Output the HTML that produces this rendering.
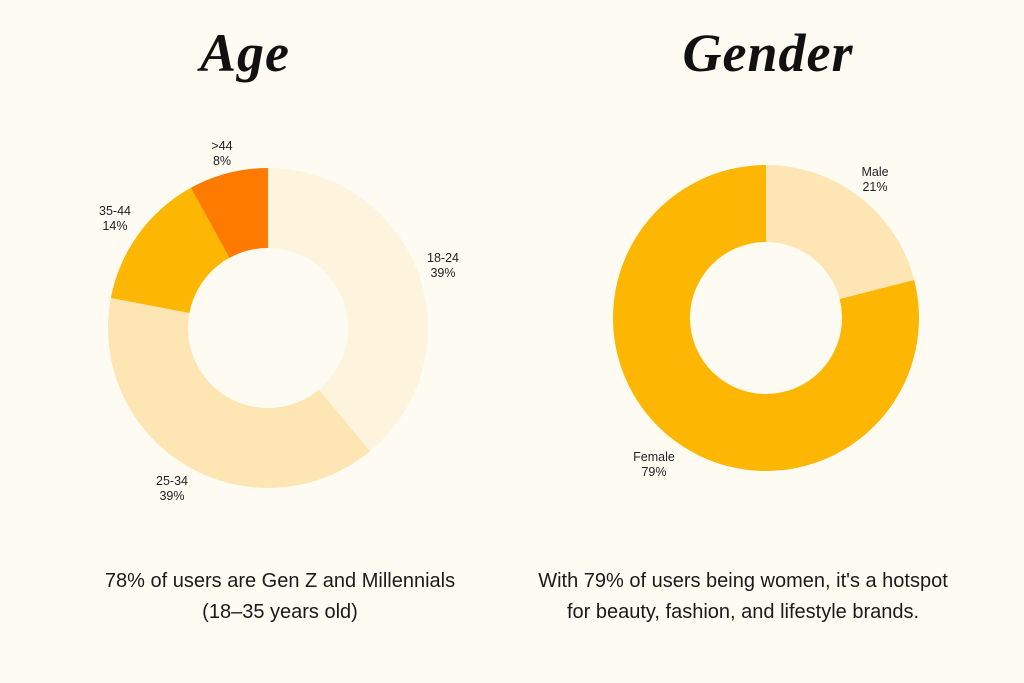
<!DOCTYPE html>
<html><head><meta charset="utf-8">
<style>
html,body{margin:0;padding:0;background:#FEFBF3;}
body{width:1024px;height:683px;overflow:hidden;position:relative;font-family:"Liberation Sans",sans-serif;}
.title{position:absolute;top:22px;font-family:"Liberation Serif",serif;font-weight:bold;font-style:italic;font-size:54px;color:#111;text-align:center;width:400px;letter-spacing:1px}
.cap{position:absolute;text-align:center;font-size:20px;line-height:31px;color:#1a1a1a;}
svg{position:absolute;left:0;top:0}
</style></head><body>
<div class="title" style="left:45px">Age</div>
<div class="title" style="left:568px">Gender</div>
<svg id="chart" width="1024" height="683"></svg>
<div class="cap" style="left:60px;width:440px;top:566px">78% of users are Gen Z and Millennials<br>(18–35 years old)</div>
<div class="cap" style="left:530px;width:426px;top:566px">With 79% of users being women, it's a hotspot for beauty, fashion, and lifestyle brands.</div>
<script>
const ageLabels=["18-24","25-34","35-44",">44"];
const ageValues=[39,39,14,8];
const genderLabels=["Male","Female"];
const genderValues=[21,79];
const ageColors=["#FEF4DE","#FDE6B4","#FDB702","#FF7B00"];
const genderColors=["#FDE6B4","#FDB702"];
const ageLabelPos=[[443,262],[172,485],[115,215],[222,150]];
const genderLabelPos=[[875,176],[654,461]];
const svg=document.getElementById('chart');
const NS="http://www.w3.org/2000/svg";
function pt(cx,cy,r,a){return [cx+r*Math.sin(a),cy-r*Math.cos(a)];}
function donut(cx,cy,ro,ri,vals,labels,colors,lp,name){
  const tot=vals.reduce((a,b)=>a+b,0);let a0=0;
  vals.forEach((v,i)=>{
    const a1=a0+v/tot*2*Math.PI;const lg=(a1-a0)>Math.PI?1:0;
    const p1=pt(cx,cy,ro,a0),p2=pt(cx,cy,ro,a1),p3=pt(cx,cy,ri,a1),p4=pt(cx,cy,ri,a0);
    const p=document.createElementNS(NS,'path');
    p.setAttribute('d',`M${p1}A${ro},${ro} 0 ${lg} 1 ${p2}L${p3}A${ri},${ri} 0 ${lg} 0 ${p4}Z`);
    p.setAttribute('fill',colors[i]);
    
    
    svg.appendChild(p);
    const t=document.createElementNS(NS,'text');
    t.setAttribute('x',lp[i][0]);t.setAttribute('y',lp[i][1]);
    t.setAttribute('text-anchor','middle');t.setAttribute('font-size','12.5');
    t.setAttribute('fill','#222');t.setAttribute('font-family','Liberation Sans, sans-serif');
    
    
    const s1=document.createElementNS(NS,'tspan');s1.setAttribute('x',lp[i][0]);s1.textContent=labels[i];
    const s2=document.createElementNS(NS,'tspan');s2.setAttribute('x',lp[i][0]);s2.setAttribute('dy','15');s2.textContent=v+'%';
    t.appendChild(s1);t.appendChild(s2);svg.appendChild(t);
    a0=a1;
  });
}
donut(268,328,160,80,ageValues,ageLabels,ageColors,ageLabelPos,'age');
donut(766,318,153,76,genderValues,genderLabels,genderColors,genderLabelPos,'gender');
</script>
</body></html>
